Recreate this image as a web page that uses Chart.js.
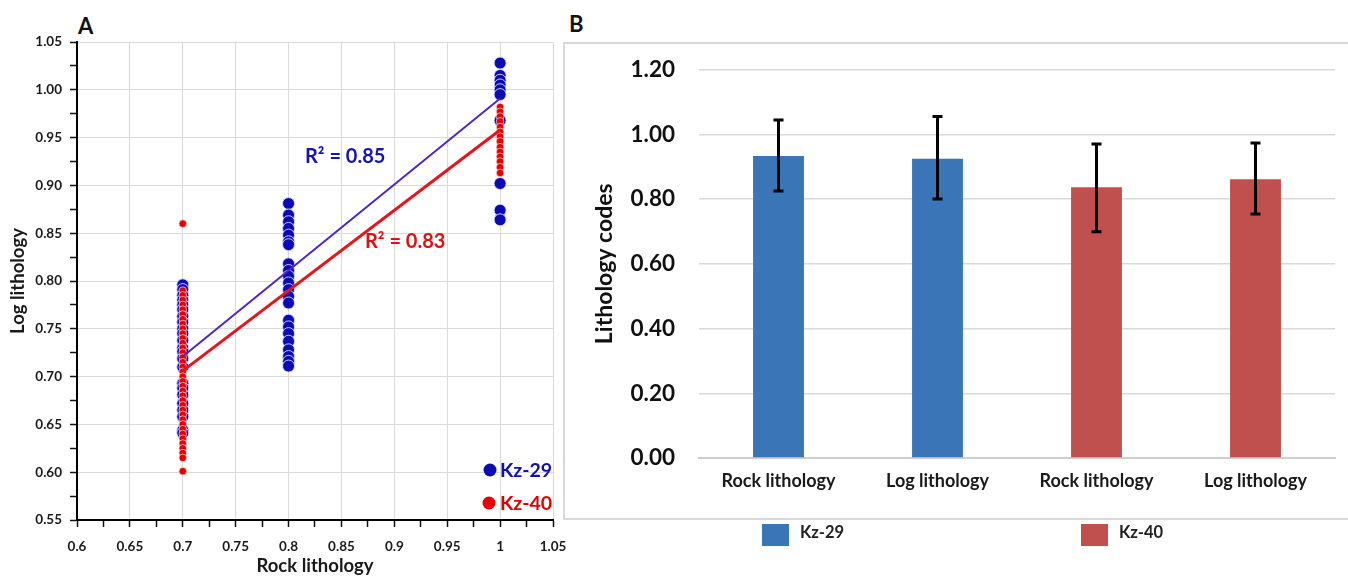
<!DOCTYPE html>
<html>
<head>
<meta charset="utf-8">
<script src="https://cdn.jsdelivr.net/npm/chart.js@4.4.1/dist/chart.umd.min.js"></script>
<style>
  html, body { margin:0; padding:0; background:#fff; }
  body { width:1348px; height:577px; position:relative; overflow:hidden; font-family:Lato, "Open Sans", sans-serif; }
  #cA { position:absolute; left:0; top:0; }
  #cB { position:absolute; left:564px; top:43px; }
  #boxB { position:absolute; left:563px; top:42px; width:820px; height:478px; border:2px solid #d9d9d9; box-sizing:border-box; }
  .panel { position:absolute; font-weight:bold; font-size:22px; color:#111; }
</style>
</head>
<body>
<div id="boxB"></div>
<div class="panel" style="left:78px; top:12px;">A</div>
<div class="panel" style="left:569px; top:10px;">B</div>
<canvas id="cA" width="575" height="577"></canvas>
<canvas id="cB" width="784" height="534"></canvas>
<script>
// ---------- Panel A data ----------
const xTicksA = [0.6, 0.65, 0.7, 0.75, 0.8, 0.85, 0.9, 0.95, 1, 1.05];
const xTickLabelsA = ['0.6','0.65','0.7','0.75','0.8','0.85','0.9','0.95','1','1.05'];
const yTicksA = [0.55, 0.6, 0.65, 0.7, 0.75, 0.8, 0.85, 0.9, 0.95, 1.0, 1.05];
const yTickLabelsA = ['0.55','0.60','0.65','0.70','0.75','0.80','0.85','0.90','0.95','1.00','1.05'];

const kz29At07 = [0.796,0.791,0.785,0.780,0.775,0.770,0.763,0.757,0.750,0.745,0.738,0.730,0.726,0.719,0.710,0.693,0.688,0.681,0.672,0.665,0.658,0.644,0.641];
const kz29At08 = [0.881,0.869,0.862,0.855,0.848,0.841,0.838,0.818,0.811,0.805,0.798,0.791,0.784,0.777,0.759,0.752,0.745,0.737,0.728,0.721,0.716,0.711];
const kz29At10 = [1.028,1.015,1.010,1.005,1.000,0.995,0.968,0.902,0.874,0.864];
const kz40At07 = [0.860,0.790,0.785,0.780,0.775,0.770,0.765,0.760,0.755,0.750,0.745,0.740,0.735,0.730,0.725,0.720,0.715,0.710,0.705,0.700,0.695,0.690,0.685,0.680,0.675,0.670,0.665,0.660,0.655,0.650,0.645,0.640,0.635,0.630,0.625,0.620,0.615,0.601];
const kz40At10 = [0.982,0.977,0.972,0.967,0.961,0.956,0.951,0.946,0.940,0.935,0.930,0.925,0.919,0.913];
const trendX = [0.7, 1.0];
const trend29 = [0.721, 0.991];
const trend40 = [0.706, 0.958];
const r2Labels = ['R\u00B2 = 0.85', 'R\u00B2 = 0.83'];

// ---------- Panel B data ----------
const barCategories = ['Rock lithology','Log lithology','Rock lithology','Log lithology'];
const kz29Means = [0.933, 0.924, null, null];
const kz40Means = [null, null, 0.836, 0.861];
const kz29Low  = [0.825, 0.800, null, null];
const kz29High = [1.044, 1.055, null, null];
const kz40Low  = [null, null, 0.699, 0.754];
const kz40High = [null, null, 0.970, 0.973];
const seriesNames = ['Kz-29','Kz-40'];

const FONT = 'Lato, "Open Sans", sans-serif';
const pts = (x, arr) => arr.map(y => ({x, y}));
const withMinors = majors => {
  const out = [];
  majors.forEach((v, i) => {
    out.push({value: v});
    if (i < majors.length - 1) out.push({value: (v + majors[i+1]) / 2});
  });
  return out;
};

// ---------- Chart A ----------
const annotA = {
  id: 'annotA',
  afterDraw(chart) {
    const c = chart.ctx;
    c.save();
    c.font = 'bold 20px ' + FONT;
    c.textBaseline = 'middle';
    c.textAlign = 'left';
    c.fillStyle = '#1414b4';
    c.fillText(r2Labels[0], 305, 157);
    c.fillStyle = '#e01010';
    c.fillText(r2Labels[1], 365, 242);
    // legend
    c.beginPath(); c.fillStyle = '#0b0bb5'; c.arc(490, 470, 6.5, 0, Math.PI*2); c.fill();
    c.beginPath(); c.fillStyle = '#e60000'; c.arc(489, 503, 6.5, 0, Math.PI*2); c.fill();
    c.font = 'bold 19.5px ' + FONT;
    c.fillStyle = '#1010b0';
    c.fillText(seriesNames[0], 500, 471);
    c.fillStyle = '#e00000';
    c.fillText(seriesNames[1], 500, 504);
    c.restore();
  }
};

new Chart(document.getElementById('cA'), {
  type: 'scatter',
  data: {
    datasets: [
      { label: seriesNames[0], data: [...pts(0.7, kz29At07), ...pts(0.8, kz29At08), ...pts(1.0, kz29At10)],
        backgroundColor: '#0b0bb5', borderColor: 'rgba(220,220,255,0.9)', borderWidth: 1, pointRadius: 6, order: 3 },
      { label: seriesNames[1], data: [...pts(0.7, kz40At07), ...pts(1.0, kz40At10)],
        backgroundColor: '#e60000', borderColor: 'rgba(255,220,220,0.9)', borderWidth: 0.8, pointRadius: 3.8, order: 2 },
      { type: 'line', label: 'trend29', data: trendX.map((x, i) => ({x, y: trend29[i]})),
        borderColor: '#4f24c8', borderWidth: 2, pointRadius: 0, order: 1 },
      { type: 'line', label: 'trend40', data: trendX.map((x, i) => ({x, y: trend40[i]})),
        borderColor: '#e8141c', borderWidth: 3, pointRadius: 0, order: 0 }
    ]
  },
  options: {
    responsive: false, animation: false,
    layout: { padding: { top: 42, right: 22, left: 0, bottom: 0 } },
    plugins: { legend: { display: false }, tooltip: { enabled: false } },
    scales: {
      x: {
        type: 'linear', min: xTicksA[0], max: xTicksA[xTicksA.length-1],
        afterBuildTicks: s => { s.ticks = withMinors(xTicksA); },
        afterFit: s => { s.height = 57; s.paddingLeft = 0; s.paddingRight = 0; },
        ticks: { autoSkip: false, maxRotation: 0, padding: 12, color: '#1a1a1a',
          font: { family: FONT, size: 13.5, weight: 'bold' },
          callback: (v, i) => i % 2 === 0 ? xTickLabelsA[i/2] : '' },
        grid: { color: ctx => (ctx.index % 2 === 0 ? '#dadada' : 'rgba(0,0,0,0)'),
          tickColor: '#111', tickLength: 7, tickWidth: 1.5 },
        border: { color: '#000', width: 2 },
        title: { display: true, text: 'Rock lithology', color: '#1a1a1a', padding: 0,
          font: { family: FONT, size: 18.5, weight: 'bold' } }
      },
      y: {
        type: 'linear', min: yTicksA[0], max: yTicksA[yTicksA.length-1],
        afterBuildTicks: s => { s.ticks = withMinors(yTicksA); },
        afterFit: s => { s.width = 77; },
        ticks: { autoSkip: false, padding: 8, color: '#1a1a1a',
          font: { family: FONT, size: 13.5, weight: 'bold' },
          callback: (v, i) => i % 2 === 0 ? yTickLabelsA[i/2] : '' },
        grid: { color: ctx => (ctx.index % 2 === 0 ? '#dadada' : 'rgba(0,0,0,0)'),
          tickColor: '#111', tickLength: 7, tickWidth: 1.5 },
        border: { color: '#000', width: 2 },
        title: { display: true, text: 'Log lithology', color: '#1a1a1a', padding: { top: 7, bottom: 0 },
          font: { family: FONT, size: 18.5, weight: 'bold' } }
      }
    }
  },
  plugins: [annotA]
});

// ---------- Chart B ----------
const errorBars = {
  id: 'errorBars',
  afterDatasetsDraw(chart) {
    const c = chart.ctx, ys = chart.scales.y;
    [[0, kz29Low, kz29High], [1, kz40Low, kz40High]].forEach(([di, lo, hi]) => {
      chart.getDatasetMeta(di).data.forEach((bar, i) => {
        if (lo[i] == null || hi[i] == null) return;
        const x = bar.x, y1 = ys.getPixelForValue(lo[i]), y2 = ys.getPixelForValue(hi[i]);
        c.save();
        c.strokeStyle = '#000'; c.lineWidth = 3; c.lineCap = 'butt';
        c.beginPath();
        c.moveTo(x, y1); c.lineTo(x, y2);
        c.moveTo(x - 5, y1); c.lineTo(x + 5, y1);
        c.moveTo(x - 5, y2); c.lineTo(x + 5, y2);
        c.stroke();
        c.restore();
      });
    });
  }
};
const legendB = {
  id: 'legendB',
  afterDraw(chart) {
    const c = chart.ctx;
    const items = [[198, 0], [517, 1]];
    c.save();
    c.font = 'bold 16.5px ' + FONT;
    c.textBaseline = 'middle'; c.textAlign = 'left';
    items.forEach(([x, di]) => {
      const ds = chart.data.datasets[di];
      c.fillStyle = ds.backgroundColor;
      c.fillRect(x, 481, 27, 22);
      c.fillStyle = '#222';
      c.fillText(ds.label, x + 38, 490);
    });
    c.restore();
  }
};

new Chart(document.getElementById('cB'), {
  type: 'bar',
  data: {
    labels: barCategories,
    datasets: [
      { label: seriesNames[0], data: kz29Means, backgroundColor: '#3a75b7' },
      { label: seriesNames[1], data: kz40Means, backgroundColor: '#c0504d' }
    ]
  },
  options: {
    responsive: false, animation: false,
    layout: { padding: { top: 26.5, right: 13, left: 0, bottom: 0 } },
    datasets: { bar: { categoryPercentage: 1, barPercentage: 0.32, skipNull: true } },
    plugins: { legend: { display: false }, tooltip: { enabled: false } },
    scales: {
      x: {
        afterFit: s => { s.height = 119; s.paddingLeft = 0; s.paddingRight = 0; },
        grid: { display: false },
        border: { color: '#cfcfcf', width: 2 },
        ticks: { padding: 4, color: '#1a1a1a', font: { family: FONT, size: 18, weight: 'bold' } }
      },
      y: {
        min: 0, max: 1.2,
        afterFit: s => { s.width = 135; s.paddingTop = 0; s.paddingBottom = 0; },
        ticks: { stepSize: 0.2, padding: 24, color: '#111',
          font: { family: FONT, size: 22.5, weight: 'bold' },
          callback: v => Number(v).toFixed(2) },
        grid: { color: '#d9d9d9', lineWidth: 1.5, drawTicks: false },
        border: { display: false },
        title: { display: true, text: 'Lithology codes', color: '#111', padding: { top: 27, bottom: 0 },
          font: { family: FONT, size: 23, weight: 'bold' } }
      }
    }
  },
  plugins: [errorBars, legendB]
});
</script>
</body>
</html>
